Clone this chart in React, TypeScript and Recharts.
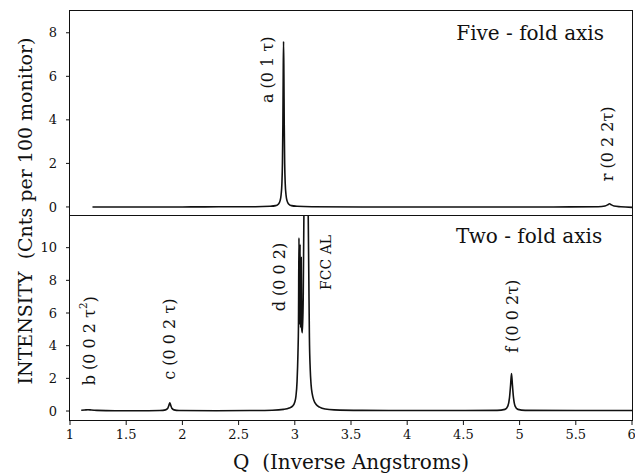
import { LineChart, Line, XAxis, YAxis, ReferenceDot } from 'recharts';

// Q (inverse angstroms) / intensity readings, five-fold axis scan
const qFive = [1.2, 1.6, 2.0, 2.4, 2.65, 2.78, 2.83, 2.855, 2.87, 2.878, 2.885, 2.89, 2.894, 2.897, 2.9, 2.903, 2.906, 2.91, 2.915, 2.922, 2.93, 2.945, 2.97, 3.02, 3.15, 3.6, 4.2, 4.8, 5.3, 5.7, 5.76, 5.785, 5.8, 5.815, 5.84, 5.9, 6.0];
const iFive = [0, 0, 0, 0.01, 0.01, 0.03, 0.06, 0.14, 0.3, 0.55, 1.05, 2.0, 3.8, 6.1, 7.6, 6.1, 3.8, 2.0, 1.05, 0.55, 0.3, 0.14, 0.06, 0.03, 0.01, 0, 0, 0, 0, 0.01, 0.04, 0.1, 0.15, 0.1, 0.04, 0.01, -0.02];

// two-fold axis scan (FCC Al peak runs off the top)
const qTwo = [1.1, 1.13, 1.16, 1.19, 1.24, 1.4, 1.7, 1.8, 1.85, 1.87, 1.88, 1.888, 1.896, 1.906, 1.925, 1.97, 2.3, 2.6, 2.8, 2.9, 2.95, 2.98, 3.0, 3.01, 3.02, 3.028, 3.033, 3.037, 3.042, 3.047, 3.052, 3.057, 3.062, 3.068, 3.075, 3.082, 3.1, 3.118, 3.125, 3.13, 3.137, 3.145, 3.155, 3.17, 3.19, 3.22, 3.27, 3.35, 3.6, 4.0, 4.5, 4.8, 4.87, 4.895, 4.91, 4.92, 4.928, 4.936, 4.946, 4.96, 4.985, 5.05, 5.5, 6.0];
const iTwo = [0.05, 0.06, 0.08, 0.06, 0.04, 0.02, 0.02, 0.03, 0.07, 0.17, 0.35, 0.5, 0.35, 0.17, 0.07, 0.03, 0.02, 0.03, 0.05, 0.1, 0.18, 0.3, 0.55, 0.9, 1.8, 3.5, 5.5, 10.6, 5.3, 10.2, 5.1, 9.4, 5.0, 4.8, 7, 13, 30, 13, 8, 4.5, 2.6, 1.6, 1.05, 0.65, 0.4, 0.24, 0.12, 0.07, 0.04, 0.03, 0.03, 0.04, 0.1, 0.3, 0.8, 1.6, 2.3, 1.6, 0.8, 0.3, 0.1, 0.04, 0.03, 0.03];

const xTicks = [1, 1.5, 2, 2.5, 3, 3.5, 4, 4.5, 5, 5.5, 6];
const yTicksFive = [0, 2, 4, 6, 8];
const yTicksTwo = [0, 2, 4, 6, 8, 10];

const fiveLabels = [
  { q: 2.758, y: 6.3, text: 'a (0 1 τ)' },
  { q: 5.778, y: 2.9, text: 'r (0 2 2τ)' },
];
const twoLabels = [
  { q: 1.178, y: 4.3, text: 'b (0 0 2 τ', sup: '2' },
  { q: 1.888, y: 4.4, text: 'c (0 0 2 τ)' },
  { q: 2.865, y: 8.2, text: 'd (0 0 2)' },
  { q: 3.282, y: 9.1, text: 'FCC AL', size: 14 },
  { q: 4.934, y: 5.8, text: 'f (0 0 2τ)' },
];

const fiveData = qFive.map((q, i) => ({ q, v: iFive[i] }));
const twoData = qTwo.map((q, i) => ({ q, v: iTwo[i] }));

const FONT = "'DejaVu Serif', 'Liberation Serif', serif";
const INK = '#111';

function PeakLabel(props: any) {
  const { viewBox, text, sup, size = 16, rot = -90 } = props;
  if (!viewBox) return null;
  const cx = viewBox.x + (viewBox.width || 0) / 2;
  const cy = viewBox.y + (viewBox.height || 0) / 2;
  return (
    <text
      x={cx}
      y={cy}
      transform={rot ? `rotate(${rot} ${cx} ${cy})` : undefined}
      textAnchor="middle"
      dominantBaseline="central"
      fontFamily={FONT}
      fontSize={size}
      fill={INK}
    >
      {text}
      {sup && (
        <tspan dy={-7} fontSize={size * 0.65}>{sup}</tspan>
      )}
      {sup && <tspan dy={7}>)</tspan>}
    </text>
  );
}

const tickStyle = { fontFamily: FONT, fontSize: 13, fill: INK };

export default function App() {
  return (
    <div style={{ position: 'relative', width: 635, height: 473, background: '#fff' }}>
      <style>{'body{margin:0}'}</style>

      <div style={{ position: 'absolute', left: 0, top: 0 }}>
        <LineChart width={635} height={216} data={fiveData} margin={{ top: 11, right: 3, left: 0, bottom: 1 }}>
          <XAxis dataKey="q" type="number" domain={[1, 6]} ticks={xTicks} hide />
          <YAxis
            type="number"
            domain={[-0.37, 9]}
            ticks={yTicksFive}
            width={70}
            axisLine={false}
            tickSize={4}
            tickMargin={9}
            tickLine={{ stroke: INK }}
            tick={tickStyle}
          />
          <Line type="monotone" dataKey="v" stroke={INK} strokeWidth={1.6} dot={false} isAnimationActive={false} />
          {fiveLabels.map(l => (
            <ReferenceDot key={l.text} x={l.q} y={l.y} r={0} fill="none" stroke="none" label={<PeakLabel text={l.text} />} />
          ))}
          <ReferenceDot x={5.094} y={8.0} r={0} fill="none" stroke="none" label={<PeakLabel text="Five - fold axis" size={20} rot={0} />} />
        </LineChart>
      </div>

      <div style={{ position: 'absolute', left: 0, top: 215 }}>
        <LineChart width={635} height={258} data={twoData} margin={{ top: 0, right: 3, left: 0, bottom: 0 }}>
          <XAxis
            dataKey="q"
            type="number"
            domain={[1, 6]}
            ticks={xTicks}
            height={53}
            axisLine={false}
            tickSize={5}
            tickMargin={5}
            tickLine={{ stroke: INK }}
            tick={tickStyle}
            label={{ value: 'Q\u00a0\u00a0(Inverse Angstroms)', position: 'insideBottom', offset: 4, fontFamily: FONT, fontSize: 20, fill: INK }}
          />
          <YAxis
            type="number"
            domain={[-0.55, 12]}
            allowDataOverflow
            ticks={yTicksTwo}
            width={70}
            axisLine={false}
            tickSize={4}
            tickMargin={9}
            tickLine={{ stroke: INK }}
            tick={tickStyle}
          />
          <Line type="monotone" dataKey="v" stroke={INK} strokeWidth={1.6} dot={false} isAnimationActive={false} />
          {twoLabels.map(l => (
            <ReferenceDot key={l.text} x={l.q} y={l.y} r={0} fill="none" stroke="none" label={<PeakLabel text={l.text} sup={l.sup} size={l.size || 16} />} />
          ))}
          <ReferenceDot x={5.085} y={10.7} r={0} fill="none" stroke="none" label={<PeakLabel text="Two - fold axis" size={20} rot={0} />} />
        </LineChart>
      </div>

      {/* frame around both panels and the divider between them */}
      <div style={{ position: 'absolute', left: 69, top: 10, width: 564, height: 411, border: `1.5px solid ${INK}`, boxSizing: 'border-box', pointerEvents: 'none' }} />
      <div style={{ position: 'absolute', left: 69, top: 214.5, width: 564, height: 0, borderTop: `1.5px solid ${INK}`, pointerEvents: 'none' }} />

      <svg width={60} height={473} style={{ position: 'absolute', left: 0, top: 0, pointerEvents: 'none' }}>
        <text
          x={25}
          y={211}
          transform="rotate(-90 25 211)"
          textAnchor="middle"
          dominantBaseline="central"
          fontFamily={FONT}
          fontSize={19}
          fill={INK}
        >
          {'INTENSITY\u00a0\u00a0(Cnts per 100 monitor)'}
        </text>
      </svg>
    </div>
  );
}
